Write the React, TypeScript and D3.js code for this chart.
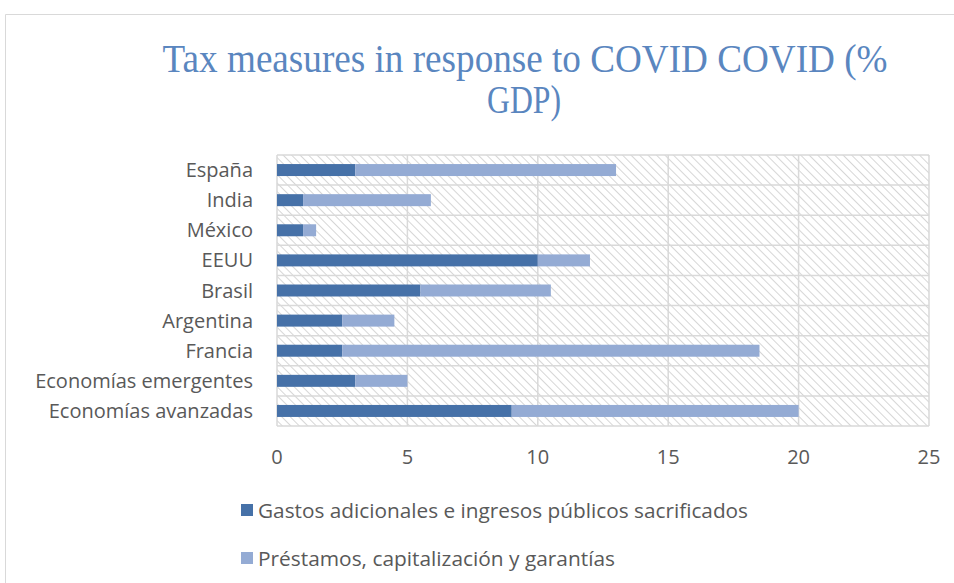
import React from "react";
import * as d3 from "d3";

const categories = ["España", "India", "México", "EEUU", "Brasil", "Argentina", "Francia", "Economías emergentes", "Economías avanzadas"];
const gastos = [3, 1, 1, 10, 5.5, 2.5, 2.5, 3, 9];
const prestamos = [10, 4.9, 0.5, 2, 5, 2, 16, 2, 11];
const xTicks = [0, 5, 10, 15, 20, 25];
const seriesNames = ["Gastos adicionales e ingresos públicos sacrificados", "Préstamos, capitalización y garantías"];
const colors = ["#4671a8", "#94abd4"];

export default function App() {
  const W = 954, H = 583;
  const x = d3.scaleLinear().domain([0, 25]).range([277, 929]);
  const y = d3.scaleBand().domain(categories).range([155, 426]).paddingInner(0).paddingOuter(0);
  const rows = categories.map((c, i) => ({ cat: c, vals: [gastos[i], prestamos[i]] }));
  const stack = d3.stack<any>().keys(["0", "1"]).value((d: any, k: string) => d.vals[+k]);
  const stacked = stack(rows as any);
  const barH = 12;
  const font = "'Open Sans', 'Liberation Sans', sans-serif";
  const gray = "#595959";
  const legendLen = [490, 357];
  return (
    <svg width={W} height={H} style={{ position: "absolute", left: 0, top: 0 }}>
      <defs>
        <pattern id="hatch" width="6" height="6" patternUnits="userSpaceOnUse" patternTransform="rotate(-45)">
          <rect width="6" height="6" fill="#fff" />
          <line x1="0" y1="0" x2="0" y2="6" stroke="#d6d6d6" strokeWidth="2" />
        </pattern>
      </defs>
      <rect x={0} y={0} width={W} height={H} fill="#fff" />
      <path d={`M5.5,${H} V14.5 H${W}`} fill="none" stroke="#d9d9d9" strokeWidth={1} />
      <text x={525} y={72} textAnchor="middle" fontFamily="'Liberation Serif', 'DejaVu Serif', serif" fontSize={40} fill="#5a86bf" textLength={725} lengthAdjust="spacingAndGlyphs">Tax measures in response to COVID COVID (%</text>
      <text x={524} y={113} textAnchor="middle" fontFamily="'Liberation Serif', 'DejaVu Serif', serif" fontSize={40} fill="#5a86bf" textLength={74} lengthAdjust="spacingAndGlyphs">GDP)</text>
      <rect x={x(0)} y={y.range()[0]} width={x(25) - x(0)} height={y.range()[1] - y.range()[0]} fill="url(#hatch)" />
      {xTicks.map(t => (
        <line key={"v" + t} x1={x(t)} x2={x(t)} y1={155} y2={426} stroke="#d9d9d9" strokeWidth={1.5} />
      ))}
      {[...categories.map(c => y(c) as number), 426].map((v, i) => (
        <line key={"h" + i} x1={x(0)} x2={x(25)} y1={v} y2={v} stroke="#d9d9d9" strokeWidth={1.5} />
      ))}
      {stacked.map((s, si) => s.map((d: any, i: number) => (
        <rect key={si + "-" + i} x={x(d[0])} width={x(d[1]) - x(d[0])} y={(y(categories[i]) as number) + y.bandwidth() / 2 - barH / 2} height={barH} fill={colors[si]} />
      )))}
      {categories.map(c => (
        <text key={c} x={253} y={(y(c) as number) + y.bandwidth() / 2} dy="0.35em" textAnchor="end" fontFamily={font} fontSize={20} fill={gray}>{c}</text>
      ))}
      {xTicks.map(t => (
        <text key={"t" + t} x={x(t)} y={457} dy="0.35em" textAnchor="middle" fontFamily={font} fontSize={20} fill={gray}>{t}</text>
      ))}
      {seriesNames.map((n, i) => (
        <g key={n}>
          <rect x={241} y={504 + i * 48} width={12} height={12} fill={colors[i]} />
          <text x={258} y={510.5 + i * 48} dy="0.35em" fontFamily={font} fontSize={20} fill={gray} textLength={legendLen[i]} lengthAdjust="spacingAndGlyphs">{n}</text>
        </g>
      ))}
    </svg>
  );
}
